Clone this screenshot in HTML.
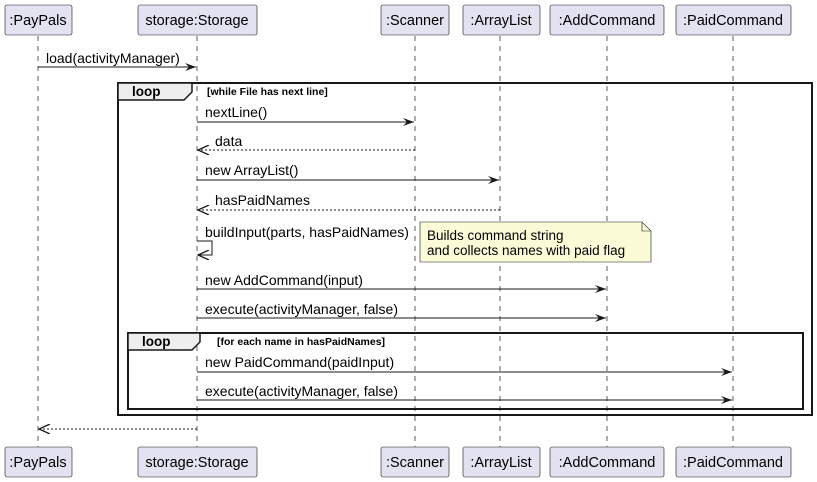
<!DOCTYPE html>
<html><head><style>body{margin:0;background:#fff}svg{display:block}text{font-family:"Liberation Sans",sans-serif}</style></head><body>
<svg width="817" height="482" viewBox="0 0 817 482" xmlns="http://www.w3.org/2000/svg">
<defs>
<marker id="a" markerWidth="12" markerHeight="10" refX="11" refY="5" orient="auto" markerUnits="userSpaceOnUse"><path d="M0,1 L11,5 L0,9 L4,5 Z" fill="#181818"/></marker>
<marker id="o" markerWidth="12" markerHeight="10" refX="11" refY="5" orient="auto" markerUnits="userSpaceOnUse"><path d="M0,0 L11,5 L0,10" fill="none" stroke="#181818" stroke-width="1.3"/></marker>
</defs>
<g stroke="#181818" stroke-width="0.7" stroke-dasharray="5,5">
<line x1="38" y1="36" x2="38" y2="447"/><line x1="197" y1="36" x2="197" y2="447"/><line x1="415" y1="36" x2="415" y2="447"/><line x1="500" y1="36" x2="500" y2="447"/><line x1="607" y1="36" x2="607" y2="447"/><line x1="733" y1="36" x2="733" y2="447"/>
</g>
<g fill="#e2e2f0" stroke="#181818" stroke-width="0.6">
<rect x="5" y="5" width="67" height="30" rx="2"/><rect x="138" y="5" width="119" height="30" rx="2"/><rect x="381" y="5" width="68" height="30" rx="2"/><rect x="463" y="5" width="77" height="30" rx="2"/><rect x="550" y="5" width="114" height="30" rx="2"/><rect x="676" y="5" width="115" height="30" rx="2"/>
<rect x="5" y="447" width="67" height="30" rx="2"/><rect x="138" y="447" width="119" height="30" rx="2"/><rect x="381" y="447" width="68" height="30" rx="2"/><rect x="463" y="447" width="77" height="30" rx="2"/><rect x="550" y="447" width="114" height="30" rx="2"/><rect x="676" y="447" width="115" height="30" rx="2"/>
</g>
<g font-size="14.5" fill="#000" text-anchor="middle">
<text x="38" y="25">:PayPals</text><text x="197" y="25">storage:Storage</text><text x="415" y="25">:Scanner</text><text x="501" y="25">:ArrayList</text><text x="607" y="25">:AddCommand</text><text x="733" y="25">:PaidCommand</text>
<text x="38" y="467">:PayPals</text><text x="197" y="467">storage:Storage</text><text x="415" y="467">:Scanner</text><text x="501" y="467">:ArrayList</text><text x="607" y="467">:AddCommand</text><text x="733" y="467">:PaidCommand</text>
</g>
<rect x="118" y="83" width="694" height="332" fill="none" stroke="#181818" stroke-width="2"/>
<path d="M118,83 H192 V92 L184,100 H118 Z" fill="#eee" stroke="#181818" stroke-width="1.5"/>
<text x="132" y="96" font-size="13.5" font-weight="bold">loop</text>
<text x="207" y="95" font-size="10.5" font-weight="bold">[while File has next line]</text>
<rect x="128" y="333" width="675" height="76" fill="none" stroke="#181818" stroke-width="2"/>
<path d="M128,333 H200 V342 L192,350 H128 Z" fill="#eee" stroke="#181818" stroke-width="1.5"/>
<text x="142" y="346" font-size="13.5" font-weight="bold">loop</text>
<text x="217" y="345" font-size="10.5" font-weight="bold">[for each name in hasPaidNames]</text>
<path d="M420,222 H642 L651,231 V262 H420 Z" fill="#fbfbd8" stroke="#181818" stroke-width="0.6"/>
<path d="M642,222 V231 H651" fill="none" stroke="#181818" stroke-width="0.6"/>
<g font-size="13.5"><text x="427" y="240">Builds command string</text><text x="427" y="255">and collects names with paid flag</text></g>
<g stroke="#181818" stroke-width="1" fill="none">
<line x1="38" y1="67" x2="196" y2="67" marker-end="url(#a)"/>
<line x1="197" y1="122" x2="414" y2="122" marker-end="url(#a)"/>
<line x1="415" y1="150" x2="198" y2="150" stroke-dasharray="2,2" marker-end="url(#o)"/>
<line x1="197" y1="180" x2="499" y2="180" marker-end="url(#a)"/>
<line x1="500" y1="210" x2="198" y2="210" stroke-dasharray="2,2" marker-end="url(#o)"/>
<polyline points="197,241 212,241 212,255 198,255" marker-end="url(#o)"/>
<line x1="197" y1="289" x2="606" y2="289" marker-end="url(#a)"/>
<line x1="197" y1="318" x2="606" y2="318" marker-end="url(#a)"/>
<line x1="197" y1="372" x2="732" y2="372" marker-end="url(#a)"/>
<line x1="197" y1="400" x2="732" y2="400" marker-end="url(#a)"/>
<line x1="197" y1="429" x2="39" y2="429" stroke-dasharray="2,2" marker-end="url(#o)"/>
</g>
<g font-size="14" fill="#000">
<text x="46" y="63">load(activityManager)</text>
<text x="205" y="117">nextLine()</text>
<text x="215" y="146">data</text>
<text x="205" y="175">new ArrayList()</text>
<text x="215" y="205">hasPaidNames</text>
<text x="205" y="237">buildInput(parts, hasPaidNames)</text>
<text x="205" y="285">new AddCommand(input)</text>
<text x="205" y="314">execute(activityManager, false)</text>
<text x="205" y="367">new PaidCommand(paidInput)</text>
<text x="205" y="396">execute(activityManager, false)</text>
</g>
</svg>
</body></html>
